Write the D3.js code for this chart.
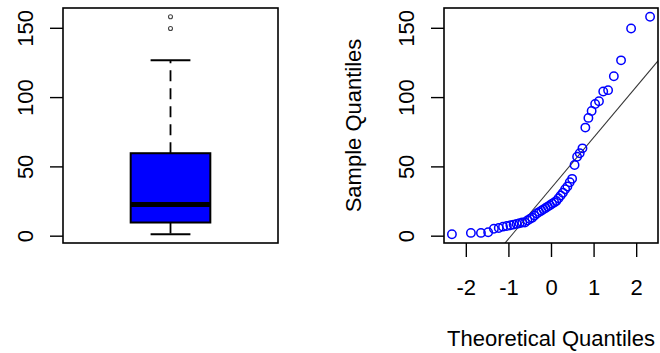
<!DOCTYPE html>
<html>
<head>
<meta charset="utf-8">
<script src="https://cdn.jsdelivr.net/npm/d3@7/dist/d3.min.js"></script>
<style>
  html, body { margin: 0; padding: 0; background: #fff; }
  svg { display: block; }
  text { font-family: "Liberation Sans", Arial, sans-serif; fill: #000; }
</style>
</head>
<body>
<svg id="chart" width="660" height="353"></svg>
<script>
// Sorted sample (n = 50)
const sampleValues = [
  1, 2, 2, 2.5, 5, 5.5, 6.5, 7, 7.5, 8,
  8.5, 9, 9.5, 9.5, 11, 12, 13, 14.5, 16, 17,
  18, 19, 20, 21, 22, 23, 24, 25, 27, 29,
  31, 33.5, 35.5, 38.5, 41, 51, 57, 59.5, 63, 78,
  85, 90, 95, 97, 104, 105, 115, 126.5, 149.5, 158
];
const yTickValues = [0, 50, 100, 150];
const xTickValues = [-2, -1, 0, 1, 2];
const xTitle = "Theoretical Quantiles";
const yTitle = "Sample Quantiles";

const FONT = 22;
const boxColor = "#0000ff";
const pointColor = "#0000ff";

// Inverse standard normal CDF (Acklam's rational approximation)
function qnorm(p) {
  const a = [-3.969683028665376e+01, 2.209460984245205e+02, -2.759285104469687e+02, 1.383577518672690e+02, -3.066479806614716e+01, 2.506628277459239e+00];
  const b = [-5.447609879822406e+01, 1.615858368580409e+02, -1.556989798598866e+02, 6.680131188771972e+01, -1.328068155288572e+01];
  const c = [-7.784894002430293e-03, -3.223964580411365e-01, -2.400758277161838e+00, -2.549732539343734e+00, 4.374664141464968e+00, 2.938163982698783e+00];
  const d = [7.784695709041462e-03, 3.224671290700398e-01, 2.445134137142996e+00, 3.754408661907416e+00];
  const pl = 0.02425, ph = 1 - pl;
  let q, r;
  if (p < pl) {
    q = Math.sqrt(-2 * Math.log(p));
    return (((((c[0]*q+c[1])*q+c[2])*q+c[3])*q+c[4])*q+c[5]) / ((((d[0]*q+d[1])*q+d[2])*q+d[3])*q+1);
  }
  if (p > ph) {
    q = Math.sqrt(-2 * Math.log(1 - p));
    return -(((((c[0]*q+c[1])*q+c[2])*q+c[3])*q+c[4])*q+c[5]) / ((((d[0]*q+d[1])*q+d[2])*q+d[3])*q+1);
  }
  q = p - 0.5; r = q * q;
  return (((((a[0]*r+a[1])*r+a[2])*r+a[3])*r+a[4])*r+a[5])*q / (((((b[0]*r+b[1])*r+b[2])*r+b[3])*r+b[4])*r+1);
}

const sorted = sampleValues.slice().sort(d3.ascending);
const n = sorted.length;

// Tukey five-number summary
function fivenum(x) {
  const m = x.length;
  const n4 = Math.floor((m + 3) / 2) / 2;
  const idx = [1, n4, (m + 1) / 2, m + 1 - n4, m];
  return idx.map(d => 0.5 * (x[Math.floor(d) - 1] + x[Math.ceil(d) - 1]));
}
const fn = fivenum(sorted);
const iqr = fn[3] - fn[1];
const hiFence = fn[3] + 1.5 * iqr, loFence = fn[1] - 1.5 * iqr;
const whiskerHi = d3.max(sorted.filter(v => v <= hiFence));
const whiskerLo = d3.min(sorted.filter(v => v >= loFence));
const outliers = sorted.filter(v => v > hiFence || v < loFence);

// Normal QQ coordinates
const qq = sorted.map((v, i) => ({ t: qnorm((i + 1 - 0.5) / n), s: v }));

// Reference line through the first and third quartiles
const yq = [d3.quantileSorted(sorted, 0.25), d3.quantileSorted(sorted, 0.75)];
const xq = [qnorm(0.25), qnorm(0.75)];
const slope = (yq[1] - yq[0]) / (xq[1] - xq[0]);
const intercept = yq[0] - slope * xq[0];

function padded(ext) {
  const r = ext[1] - ext[0];
  return [ext[0] - 0.04 * r, ext[1] + 0.04 * r];
}

const svg = d3.select("#chart");
const plotTop = 8, plotBottom = 243;
const y = d3.scaleLinear().domain(padded(d3.extent(sorted))).range([plotBottom, plotTop]);

// ---------- Left panel: box plot ----------
const L = { x0: 63, x1: 278 };
const bx = d3.scaleLinear().domain([0.46, 1.54]).range([L.x0, L.x1]);
const gL = svg.append("g");

function yAxis(g, x0) {
  const ax = g.append("g").attr("transform", `translate(${x0},0)`)
    .call(d3.axisLeft(y).tickValues(yTickValues).tickSize(13).tickFormat(d3.format("d")));
  ax.select(".domain").remove();
  ax.selectAll(".tick line").attr("stroke", "#000").attr("stroke-width", 1.4);
  ax.selectAll(".tick text")
    .attr("x", 0).attr("y", -30).attr("dy", 0)
    .attr("transform", "rotate(-90)")
    .attr("text-anchor", "middle")
    .style("font-size", FONT + "px")
    .style("font-family", '"Liberation Sans", Arial, sans-serif')
    .attr("fill", "#000");
  return ax;
}

yAxis(gL, L.x0);

// whiskers (dashed, starting at the hinges)
gL.append("line")
  .attr("x1", bx(1)).attr("x2", bx(1))
  .attr("y1", y(fn[3])).attr("y2", y(whiskerHi))
  .attr("stroke", "#000").attr("stroke-width", 1.8).attr("stroke-dasharray", "11,7");
gL.append("line")
  .attr("x1", bx(1)).attr("x2", bx(1))
  .attr("y1", y(fn[1])).attr("y2", y(whiskerLo))
  .attr("stroke", "#000").attr("stroke-width", 1.8).attr("stroke-dasharray", "11,7");
// staples
[whiskerHi, whiskerLo].forEach(v => {
  gL.append("line")
    .attr("x1", bx(0.9)).attr("x2", bx(1.1))
    .attr("y1", y(v)).attr("y2", y(v))
    .attr("stroke", "#000").attr("stroke-width", 2);
});
// box
gL.append("rect")
  .attr("x", bx(0.8)).attr("width", bx(1.2) - bx(0.8))
  .attr("y", y(fn[3])).attr("height", y(fn[1]) - y(fn[3]))
  .attr("fill", boxColor).attr("stroke", "#000").attr("stroke-width", 2);
// median
gL.append("line")
  .attr("x1", bx(0.8)).attr("x2", bx(1.2))
  .attr("y1", y(fn[2])).attr("y2", y(fn[2]))
  .attr("stroke", "#000").attr("stroke-width", 5);
// outliers
gL.selectAll("circle.out").data(outliers).join("circle")
  .attr("class", "out")
  .attr("cx", bx(1)).attr("cy", d => y(d)).attr("r", 2)
  .attr("fill", "none").attr("stroke", "#444").attr("stroke-width", 1.1);
// frame
gL.append("rect")
  .attr("x", L.x0).attr("y", plotTop).attr("width", L.x1 - L.x0).attr("height", plotBottom - plotTop)
  .attr("fill", "none").attr("stroke", "#000").attr("stroke-width", 1.6);

// ---------- Right panel: normal QQ plot ----------
const R = { x0: 444, x1: 658 };
const x = d3.scaleLinear().domain(padded(d3.extent(qq, d => d.t))).range([R.x0, R.x1]);
const gR = svg.append("g");

yAxis(gR, R.x0);

const xa = gR.append("g").attr("transform", `translate(0,${plotBottom})`)
  .call(d3.axisBottom(x).tickValues(xTickValues).tickSize(14).tickFormat(d => d < 0 ? "-" + Math.abs(d) : String(d)));
xa.select(".domain").remove();
xa.selectAll(".tick line").attr("stroke", "#000").attr("stroke-width", 1.4);
xa.selectAll(".tick text")
  .attr("y", 52).attr("dy", 0)
  .style("font-size", FONT + "px")
  .style("font-family", '"Liberation Sans", Arial, sans-serif')
  .attr("fill", "#000");

svg.append("defs").append("clipPath").attr("id", "qqclip")
  .append("rect").attr("x", R.x0).attr("y", plotTop).attr("width", R.x1 - R.x0).attr("height", plotBottom - plotTop);

const xd = x.domain();
gR.append("line")
  .attr("clip-path", "url(#qqclip)")
  .attr("x1", x(xd[0])).attr("y1", y(intercept + slope * xd[0]))
  .attr("x2", x(xd[1])).attr("y2", y(intercept + slope * xd[1]))
  .attr("stroke", "#333").attr("stroke-width", 1.1);

gR.selectAll("circle.pt").data(qq).join("circle")
  .attr("class", "pt")
  .attr("cx", d => x(d.t)).attr("cy", d => y(d.s)).attr("r", 4.2)
  .attr("fill", "none").attr("stroke", pointColor).attr("stroke-width", 1.5);

gR.append("rect")
  .attr("x", R.x0).attr("y", plotTop).attr("width", R.x1 - R.x0).attr("height", plotBottom - plotTop)
  .attr("fill", "none").attr("stroke", "#000").attr("stroke-width", 1.6);

// axis titles
gR.append("text")
  .attr("x", (R.x0 + R.x1) / 2).attr("y", 346)
  .attr("text-anchor", "middle")
  .style("font-size", FONT + "px")
  .text(xTitle);
gR.append("text")
  .attr("transform", `translate(361,${(plotTop + plotBottom) / 2}) rotate(-90)`)
  .attr("text-anchor", "middle")
  .style("font-size", FONT + "px")
  .text(yTitle);
</script>
</body>
</html>
